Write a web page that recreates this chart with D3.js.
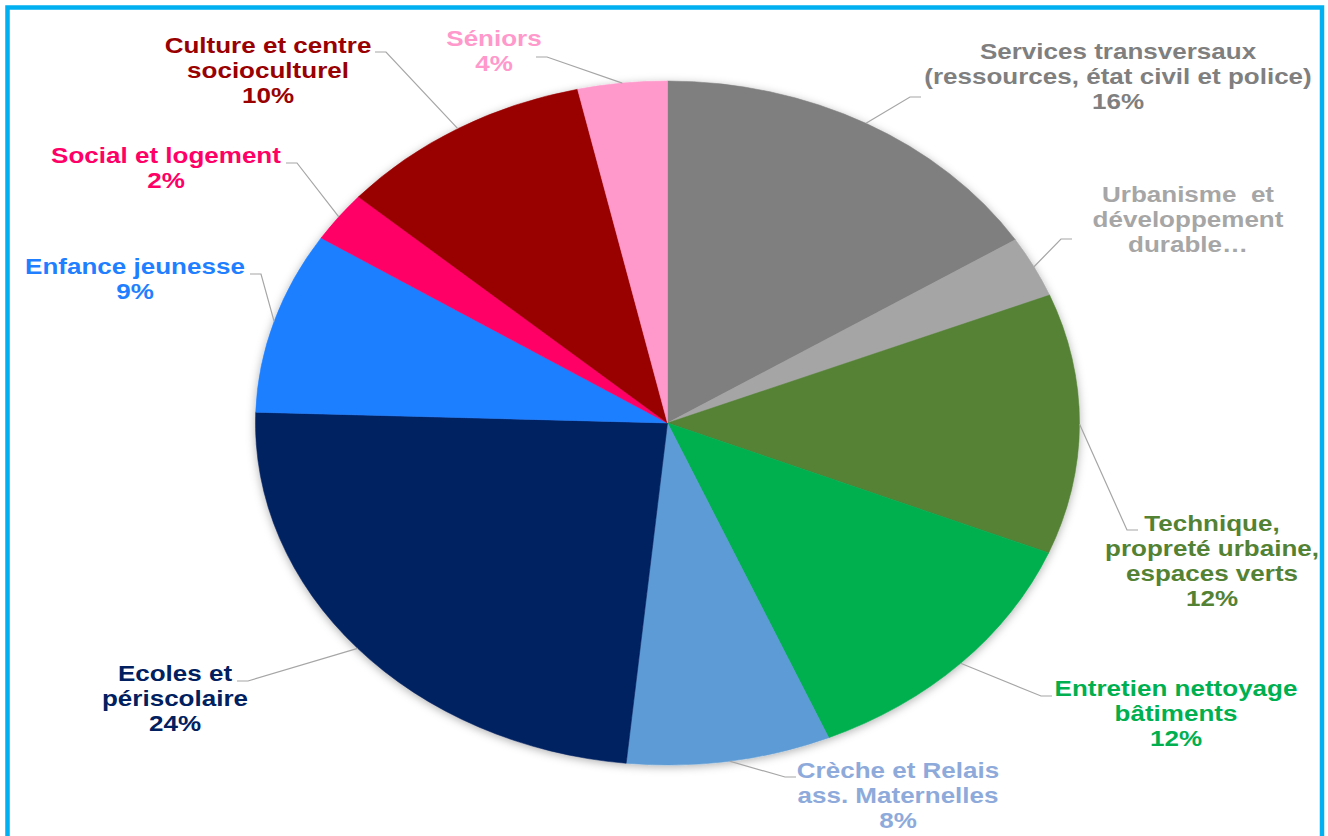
<!DOCTYPE html>
<html>
<head>
<meta charset="utf-8">
<script src="https://cdn.jsdelivr.net/npm/d3@7"></script>
<style>
  html, body { margin: 0; padding: 0; background: #fff; }
  svg { display: block; }
  text { font-family: "Liberation Sans", Arial, sans-serif; font-weight: bold; white-space: pre; }
</style>
</head>
<body>
<svg width="1328" height="836"></svg>
<script>
// chart data (share of staff by service, %)
const categories = [
  'Services transversaux\n(ressources, état civil et police)',
  'Urbanisme  et\ndéveloppement\ndurable…',
  'Technique,\npropreté urbaine,\nespaces verts',
  'Entretien nettoyage\nbâtiments',
  'Crèche et Relais\nass. Maternelles',
  'Ecoles et\npériscolaire',
  'Enfance jeunesse',
  'Social et logement',
  'Culture et centre\nsocioculturel',
  'Séniors'
];
const values = [16.0, 2.9, 12.3, 12.4, 8.0, 23.9, 8.6, 2.4, 10.0, 3.5];
const showPercent = [true, false, true, true, true, true, true, true, true, true];

const sliceColors = ['#7f7f7f', '#a5a5a5', '#548235', '#00b050', '#5b9bd5',
  '#002060', '#1f7fff', '#ff0066', '#990000', '#ff99cc'];
const labelColors = ['#7f7f7f', '#a6a6a6', '#548235', '#00b050', '#8eaadb',
  '#002060', '#1f7fff', '#ff0066', '#990000', '#ff99cc'];

// where each label sits: centre x, first baseline, end of its leader line
const labelLayout = [
  {x: 1118, y: 59, ex: 921, ey: 97},
  {x: 1188, y: 202, ex: 1072, ey: 239},
  {x: 1212, y: 531, ex: 1138, ey: 530},
  {x: 1176, y: 696, ex: 1052, ey: 696},
  {x: 898, y: 778, ex: 796, ey: 777},
  {x: 175, y: 681, ex: 237, ey: 681},
  {x: 135, y: 274, ex: 250, ey: 274},
  {x: 166, y: 163, ex: 286, ey: 163},
  {x: 268, y: 53, ex: 375, ey: 52},
  {x: 494, y: 46, ex: 536, ey: 57}
];

const cx = 667.5;
const cy = 423;
const radius = 342;
const sx = 412 / radius; // the picture is stretched sideways
const lineHeight = 25;

const data = categories.map((c, i) => ({
  name: c, value: values[i], color: sliceColors[i],
  labelColor: labelColors[i], pct: showPercent[i], layout: labelLayout[i]
}));

const svg = d3.select('svg');

const defs = svg.append('defs');
const shadow = defs.append('filter')
    .attr('id', 'pieShadow')
    .attr('x', '-10%').attr('y', '-10%')
    .attr('width', '120%').attr('height', '120%');
shadow.append('feDropShadow')
    .attr('dx', 0).attr('dy', 2)
    .attr('stdDeviation', 4)
    .attr('flood-color', '#000')
    .attr('flood-opacity', 0.3);

// frame
svg.append('rect')
    .attr('x', 7.5).attr('y', 7.5)
    .attr('width', 1314.5).attr('height', 880)
    .attr('fill', 'none')
    .attr('stroke', '#00b0f0')
    .attr('stroke-width', 4.5);

const pie = d3.pie().sort(null).value((d) => d.value);
const arcs = pie(data);

const arc = d3.arc().innerRadius(0).outerRadius(radius);
const rim = d3.arc().innerRadius(radius).outerRadius(radius);

const pieG = svg.append('g')
    .attr('transform', `translate(${cx},${cy}) scale(${sx},1)`);

pieG.append('g')
    .attr('filter', 'url(#pieShadow)')
    .selectAll('path')
    .data(arcs)
    .enter()
    .append('path')
    .attr('d', arc)
    .attr('fill', (d) => d.data.color)
    .attr('stroke', (d) => d.data.color)
    .attr('stroke-width', 0.5);

// leader lines
const pct = d3.format('.0%');
svg.append('g')
    .selectAll('polyline')
    .data(arcs)
    .enter()
    .append('polyline')
    .attr('fill', 'none')
    .attr('stroke', '#a6a6a6')
    .attr('stroke-width', 1.2)
    .attr('points', function(d) {
      const c = rim.centroid(d);
      const ax = cx + c[0] * sx;
      const ay = cy + c[1];
      const l = d.data.layout;
      const bx = l.ex + (ax > l.ex ? 11 : -11);
      return `${ax},${ay} ${bx},${l.ey} ${l.ex},${l.ey}`;
    });

// labels
const labels = svg.append('g')
    .selectAll('text')
    .data(arcs)
    .enter()
    .append('text')
    .attr('transform', (d) =>
      `translate(${d.data.layout.x},${d.data.layout.y}) scale(${sx},1)`)
    .attr('text-anchor', 'middle')
    .attr('font-size', 21.6)
    .attr('fill', (d) => d.data.labelColor);

labels.each(function(d) {
  const lines = d.data.name.split('\n');
  if (d.data.pct) lines.push(pct(d.data.value / 100));
  d3.select(this).selectAll('tspan')
      .data(lines)
      .enter()
      .append('tspan')
      .attr('x', 0)
      .attr('y', (t, i) => i * lineHeight)
      .text((t) => t);
});
</script>
</body>
</html>
